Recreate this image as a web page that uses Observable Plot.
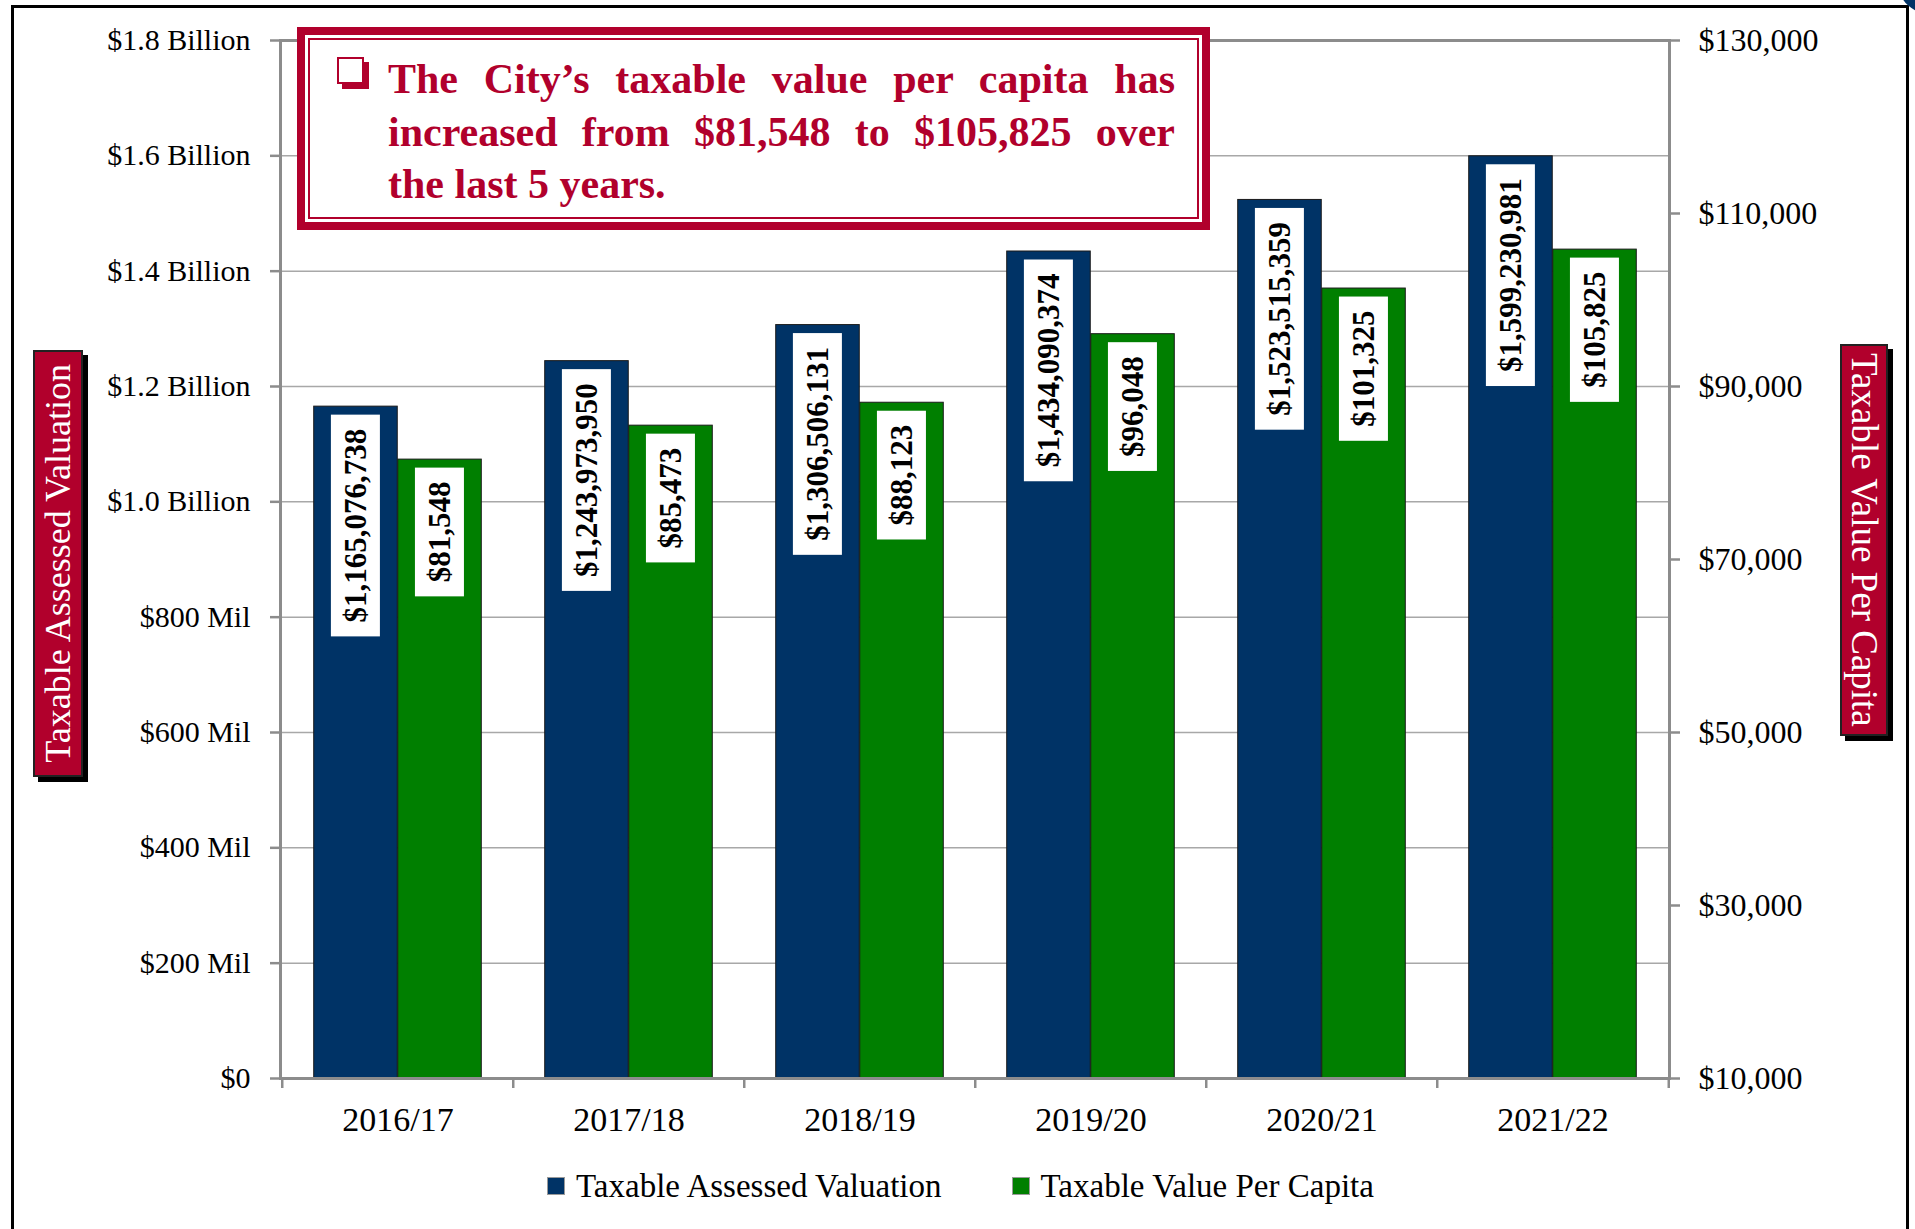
<!DOCTYPE html>
<html><head><meta charset="utf-8">
<script src="https://cdn.jsdelivr.net/npm/d3@7"></script>
<script src="https://cdn.jsdelivr.net/npm/@observablehq/plot@0.6"></script>
<style>
html,body{margin:0;padding:0;background:#fff;}
#wrap{position:relative;width:1915px;height:1229px;overflow:hidden;font-family:"Liberation Serif",serif;}
#wrap svg{position:absolute;left:0;top:0;overflow:visible;}
#outer{position:absolute;left:11px;top:5px;width:1898px;height:1300px;border:3px solid #000;box-sizing:border-box;}
#corner{position:absolute;left:1898px;top:-14px;width:40px;height:24px;background:#003366;border-radius:50%;transform:rotate(35deg);}
.ttl{position:absolute;background:#b1002c;border:2px solid #222;box-shadow:5px 5px 0 #000;box-sizing:border-box;display:flex;align-items:center;justify-content:center;color:#fff;font-size:36px;z-index:4;}
.ttl span{writing-mode:vertical-rl;white-space:nowrap;}
#ttlL span{transform:rotate(180deg);}
#ttlR{font-size:37px;}
#note{position:absolute;left:297px;top:27px;width:913px;height:203px;box-sizing:border-box;border:8px solid #b1002c;background:#fff;z-index:5;}
#note .inner{position:absolute;left:3px;top:3px;right:3px;bottom:3px;border:2px solid #b1002c;}
#note .bullet{position:absolute;left:32px;top:22px;width:27px;height:27px;box-sizing:border-box;border:2.5px solid #b1002c;box-shadow:5px 5px 0 #b1002c;background:#fff;}
#note .txt{position:absolute;left:83px;top:18px;width:787px;color:#b1002c;font-weight:bold;font-size:42px;line-height:52.5px;}
#note .j{text-align:justify;text-align-last:justify;}
#legend{position:absolute;left:547px;top:1166px;height:40px;display:flex;align-items:center;font-size:33px;color:#000;z-index:4;}
#legend .sw{display:inline-block;width:18px;height:18px;border:1px solid #9a9a9a;box-sizing:border-box;margin-right:11px;}
</style></head><body><div id="wrap"></div>
<script>
const years = ["2016/17","2017/18","2018/19","2019/20","2020/21","2021/22"];
const assessedValuation = [1165076738, 1243973950, 1306506131, 1434090374, 1523515359, 1599230981];
const perCapita = [81548, 85473, 88123, 96048, 101325, 105825];
const leftTicks = [0, 200e6, 400e6, 600e6, 800e6, 1.0e9, 1.2e9, 1.4e9, 1.6e9, 1.8e9];
const leftTickLabels = ["$0","$200 Mil","$400 Mil","$600 Mil","$800 Mil","$1.0 Billion","$1.2 Billion","$1.4 Billion","$1.6 Billion","$1.8 Billion"];
const rightTicks = [10000, 30000, 50000, 70000, 90000, 110000, 130000];
const rightTickLabels = ["$10,000","$30,000","$50,000","$70,000","$90,000","$110,000","$130,000"];
const seriesNames = ["Taxable Assessed Valuation", "Taxable Value Per Capita"];
const seriesColors = ["#003366", "#007f00"];
const axisTitles = ["Taxable Assessed Valuation", "Taxable Value Per Capita"];
const noteLines = ["The City’s taxable value per capita has", "increased from $81,548 to $105,825 over", "the last 5 years."];

const data = years.map((y, i) => ({year: y, tav: assessedValuation[i], pc: perCapita[i]}));
const money = v => "$" + d3.format(",")(v);

const W = 1915, H = 1160, ML = 280, MR = 246, MT = 40, MB = 82;
const step = (W - ML - MR) / years.length;
const outerPad = 0.137 * step, barW = 0.363 * step;
const off = outerPad + barW / 2 - step / 2;
const font = "Liberation Serif";
const axisGray = "#8c8c8c";
const labelSize = 31, boxPadEnd = 14, boxThick = 49, labelGap = 8;

const wrap = document.getElementById("wrap");

const common = {
  width: W, height: H, marginLeft: ML, marginRight: MR, marginTop: MT, marginBottom: MB,
  x: {domain: years, padding: 0, axis: null, label: null},
};

const plotA = Plot.plot({
  ...common,
  style: {fontFamily: font, background: "#fff", overflow: "visible"},
  y: {domain: [0, 1.8e9], axis: null, label: null},
  marks: [
    Plot.gridY(leftTicks, {stroke: "#a8a8a8", strokeOpacity: 1, strokeWidth: 1.5}),
    Plot.axisY(leftTicks, {anchor: "left", label: null, tickSize: 10, tickPadding: 20, stroke: axisGray, strokeWidth: 2.5,
      fill: "#000", fontSize: 30, tickFormat: d => leftTickLabels[leftTicks.indexOf(d)]}),
    Plot.barY(data, {x: "year", y: "tav", fill: seriesColors[0], stroke: "#1a1a1a", strokeWidth: 1,
      insetLeft: outerPad, insetRight: step - outerPad - barW}),
    Plot.frame({stroke: axisGray, strokeWidth: 3}),
    Plot.axisX(years, {anchor: "bottom", label: null, tickSize: 0, tickPadding: 28, fill: "#000", fontSize: 34}),
    Plot.axisX(years, {anchor: "bottom", label: null, tickSize: 10, stroke: axisGray, strokeWidth: 2.5, tickFormat: () => "", dx: -step / 2}),
    Plot.axisX([years[years.length - 1]], {anchor: "bottom", label: null, tickSize: 10, stroke: axisGray, strokeWidth: 2.5, tickFormat: () => "", dx: step / 2}),
    Plot.text(data, {x: "year", y: "tav", text: d => money(d.tav), rotate: -90, textAnchor: "end",
      dx: off, dy: labelGap + boxPadEnd, fontSize: labelSize, fontWeight: "bold", fill: "#000"})
  ]
});

const plotB = Plot.plot({
  ...common,
  style: {fontFamily: font, background: "transparent", overflow: "visible"},
  y: {domain: [10000, 130000], axis: null, label: null, clamp: true},
  marks: [
    Plot.barY(data, {x: "year", y: "pc", fill: seriesColors[1], stroke: "#1a1a1a", strokeWidth: 1,
      insetLeft: outerPad + barW, insetRight: outerPad}),
    Plot.ruleY([rightTicks[0]], {stroke: axisGray, strokeWidth: 3}),
    Plot.axisY(rightTicks, {anchor: "right", label: null, tickSize: 10, tickPadding: 19, stroke: axisGray, strokeWidth: 2.5,
      fill: "#000", fontSize: 32, tickFormat: d => rightTickLabels[rightTicks.indexOf(d)]}),
    Plot.text(data, {x: "year", y: "pc", text: d => money(d.pc), rotate: -90, textAnchor: "end",
      dx: -off, dy: labelGap + boxPadEnd, fontSize: labelSize, fontWeight: "bold", fill: "#000"})
  ]
});

wrap.appendChild(plotA);
wrap.appendChild(plotB);

const labelSet = new Set([...assessedValuation.map(money), ...perCapita.map(money)]);
const SVGNS = "http://www.w3.org/2000/svg";
function boxLabels(svg) {
  const texts = Array.from(svg.getElementsByTagName("text")).filter(t => labelSet.has(t.textContent.trim()));
  texts.forEach(t => {
    const bb = t.getBBox();
    const r = document.createElementNS(SVGNS, "rect");
    r.setAttribute("x", bb.x - boxPadEnd);
    r.setAttribute("y", bb.y + bb.height / 2 - boxThick / 2);
    r.setAttribute("width", bb.width + 2 * boxPadEnd);
    r.setAttribute("height", boxThick);
    r.setAttribute("fill", "#ffffff");
    r.style.fill = "#ffffff";
    r.style.stroke = "none";
    const tr = t.getAttribute("transform");
    if (tr) r.setAttribute("transform", tr);
    t.parentNode.insertBefore(r, t);
  });
}
boxLabels(plotA);
boxLabels(plotB);

const outer = document.createElement("div"); outer.id = "outer"; wrap.appendChild(outer);
const corner = document.createElement("div"); corner.id = "corner"; wrap.appendChild(corner);

const tl = document.createElement("div"); tl.className = "ttl"; tl.id = "ttlL";
Object.assign(tl.style, {left: "33px", top: "350px", width: "50px", height: "427px"});
tl.innerHTML = `<span>${axisTitles[0]}</span>`; wrap.appendChild(tl);
const tr = document.createElement("div"); tr.className = "ttl"; tr.id = "ttlR";
Object.assign(tr.style, {left: "1840px", top: "344px", width: "48px", height: "392px"});
tr.innerHTML = `<span>${axisTitles[1]}</span>`; wrap.appendChild(tr);

const note = document.createElement("div"); note.id = "note";
note.innerHTML = `<div class="inner"></div><span class="bullet"></span><div class="txt">` +
  noteLines.map((l, i) => `<div class="${i < noteLines.length - 1 ? "j" : ""}">${l}</div>`).join("") + `</div>`;
wrap.appendChild(note);

const legend = document.createElement("div"); legend.id = "legend";
legend.innerHTML = seriesNames.map((n, i) =>
  `<span class="sw" style="background:${seriesColors[i]};${i > 0 ? "margin-left:70px;" : ""}"></span><span>${n}</span>`).join("");
wrap.appendChild(legend);
</script></body></html>
